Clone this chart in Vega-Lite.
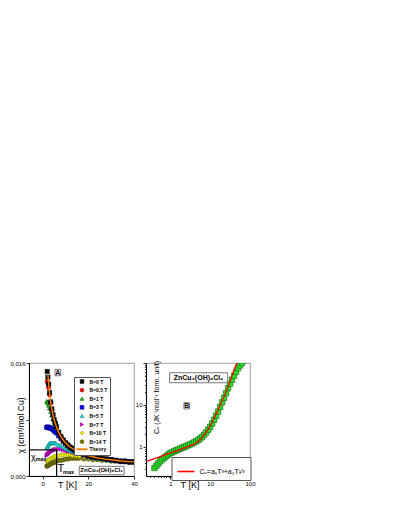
{
  "$schema": "https://vega.github.io/schema/vega-lite/v6.json",
  "padding": {"left": 9, "top": 359, "right": 0, "bottom": 0},
  "bounds": "flush",
  "spacing": 12,
  "resolve": {"scale": {"fill": "independent", "stroke": "independent", "shape": "independent"}, "legend": {"fill": "independent", "stroke": "independent", "shape": "independent"}},
  "config": {
    "font": "Liberation Sans",
    "view": {"stroke": "#888", "strokeWidth": 0.8},
    "axis": {"domainColor": "#000", "domainWidth": 1, "tickColor": "#000", "tickWidth": 0.8, "labelFontSize": 6, "labelColor": "#000", "titleColor": "#000", "titleFontWeight": "normal", "labelPadding": 1, "grid": false, "labelFlush": false, "labelOverlap": false}
  },
  "datasets": {
    "chi": [
      {"s":"B=14 T","T":1.8,"c":0.0014},{"s":"B=14 T","T":2.0,"c":0.0014},{"s":"B=14 T","T":2.3,"c":0.0015},{"s":"B=14 T","T":2.6,"c":0.0016},{"s":"B=14 T","T":3.0,"c":0.0016},{"s":"B=14 T","T":3.5,"c":0.0017},{"s":"B=14 T","T":4.0,"c":0.0018},{"s":"B=14 T","T":4.5,"c":0.0019},{"s":"B=14 T","T":5.0,"c":0.0019},{"s":"B=14 T","T":5.5,"c":0.0020},{"s":"B=14 T","T":6.0,"c":0.0021},{"s":"B=14 T","T":7.0,"c":0.0022},{"s":"B=14 T","T":8.0,"c":0.0022},{"s":"B=14 T","T":9.0,"c":0.0023},{"s":"B=14 T","T":10,"c":0.0024},{"s":"B=14 T","T":11,"c":0.0024},{"s":"B=14 T","T":12,"c":0.0025},{"s":"B=14 T","T":13,"c":0.0025},{"s":"B=14 T","T":14,"c":0.0025},{"s":"B=14 T","T":15,"c":0.0025},{"s":"B=14 T","T":16,"c":0.0025},{"s":"B=14 T","T":18,"c":0.0024},{"s":"B=14 T","T":20,"c":0.0024},{"s":"B=14 T","T":22,"c":0.0023},{"s":"B=14 T","T":24,"c":0.0023},{"s":"B=14 T","T":26,"c":0.0022},{"s":"B=14 T","T":28,"c":0.0022},{"s":"B=14 T","T":30,"c":0.0021},{"s":"B=14 T","T":32,"c":0.0021},{"s":"B=14 T","T":34,"c":0.0020},{"s":"B=14 T","T":36,"c":0.0020},{"s":"B=14 T","T":38,"c":0.0019},{"s":"B=14 T","T":40,"c":0.0019},
      {"s":"B=10 T","T":1.8,"c":0.0021},{"s":"B=10 T","T":2.0,"c":0.0021},{"s":"B=10 T","T":2.3,"c":0.0022},{"s":"B=10 T","T":2.6,"c":0.0023},{"s":"B=10 T","T":3.0,"c":0.0024},{"s":"B=10 T","T":3.5,"c":0.0025},{"s":"B=10 T","T":4.0,"c":0.0026},{"s":"B=10 T","T":4.5,"c":0.0026},{"s":"B=10 T","T":5.0,"c":0.0027},{"s":"B=10 T","T":5.5,"c":0.0028},{"s":"B=10 T","T":6.0,"c":0.0028},{"s":"B=10 T","T":7.0,"c":0.0029},{"s":"B=10 T","T":8.0,"c":0.0030},{"s":"B=10 T","T":9.0,"c":0.0030},{"s":"B=10 T","T":10,"c":0.0030},{"s":"B=10 T","T":11,"c":0.0030},{"s":"B=10 T","T":12,"c":0.0030},{"s":"B=10 T","T":13,"c":0.0029},{"s":"B=10 T","T":14,"c":0.0029},{"s":"B=10 T","T":15,"c":0.0028},{"s":"B=10 T","T":16,"c":0.0028},{"s":"B=10 T","T":18,"c":0.0027},{"s":"B=10 T","T":20,"c":0.0026},{"s":"B=10 T","T":22,"c":0.0025},{"s":"B=10 T","T":24,"c":0.0024},{"s":"B=10 T","T":26,"c":0.0023},{"s":"B=10 T","T":28,"c":0.0022},{"s":"B=10 T","T":30,"c":0.0022},{"s":"B=10 T","T":32,"c":0.0021},{"s":"B=10 T","T":34,"c":0.0021},{"s":"B=10 T","T":36,"c":0.0020},{"s":"B=10 T","T":38,"c":0.0020},{"s":"B=10 T","T":40,"c":0.0019},
      {"s":"B=7 T","T":1.8,"c":0.0029},{"s":"B=7 T","T":2.0,"c":0.0030},{"s":"B=7 T","T":2.3,"c":0.0031},{"s":"B=7 T","T":2.6,"c":0.0032},{"s":"B=7 T","T":3.0,"c":0.0033},{"s":"B=7 T","T":3.5,"c":0.0034},{"s":"B=7 T","T":4.0,"c":0.0035},{"s":"B=7 T","T":4.5,"c":0.0036},{"s":"B=7 T","T":5.0,"c":0.0037},{"s":"B=7 T","T":5.5,"c":0.0037},{"s":"B=7 T","T":6.0,"c":0.0038},{"s":"B=7 T","T":7.0,"c":0.0038},{"s":"B=7 T","T":8.0,"c":0.0038},{"s":"B=7 T","T":9.0,"c":0.0037},{"s":"B=7 T","T":10,"c":0.0036},{"s":"B=7 T","T":11,"c":0.0035},{"s":"B=7 T","T":12,"c":0.0035},{"s":"B=7 T","T":13,"c":0.0034},{"s":"B=7 T","T":14,"c":0.0033},{"s":"B=7 T","T":15,"c":0.0032},{"s":"B=7 T","T":16,"c":0.0031},{"s":"B=7 T","T":18,"c":0.0029},{"s":"B=7 T","T":20,"c":0.0028},{"s":"B=7 T","T":22,"c":0.0026},{"s":"B=7 T","T":24,"c":0.0025},{"s":"B=7 T","T":26,"c":0.0024},{"s":"B=7 T","T":28,"c":0.0023},{"s":"B=7 T","T":30,"c":0.0022},{"s":"B=7 T","T":32,"c":0.0021},{"s":"B=7 T","T":34,"c":0.0021},{"s":"B=7 T","T":36,"c":0.0020},{"s":"B=7 T","T":38,"c":0.0020},{"s":"B=7 T","T":40,"c":0.0019},
      {"s":"B=5 T","T":1.8,"c":0.0040},{"s":"B=5 T","T":2.0,"c":0.0041},{"s":"B=5 T","T":2.3,"c":0.0043},{"s":"B=5 T","T":2.6,"c":0.0045},{"s":"B=5 T","T":3.0,"c":0.0046},{"s":"B=5 T","T":3.5,"c":0.0047},{"s":"B=5 T","T":4.0,"c":0.0047},{"s":"B=5 T","T":4.5,"c":0.0047},{"s":"B=5 T","T":5.0,"c":0.0047},{"s":"B=5 T","T":5.5,"c":0.0047},{"s":"B=5 T","T":6.0,"c":0.0046},{"s":"B=5 T","T":7.0,"c":0.0044},{"s":"B=5 T","T":8.0,"c":0.0043},{"s":"B=5 T","T":9.0,"c":0.0041},{"s":"B=5 T","T":10,"c":0.0039},{"s":"B=5 T","T":11,"c":0.0038},{"s":"B=5 T","T":12,"c":0.0036},{"s":"B=5 T","T":13,"c":0.0035},{"s":"B=5 T","T":14,"c":0.0034},{"s":"B=5 T","T":15,"c":0.0033},{"s":"B=5 T","T":16,"c":0.0032},{"s":"B=5 T","T":18,"c":0.0030},{"s":"B=5 T","T":20,"c":0.0028},{"s":"B=5 T","T":22,"c":0.0026},{"s":"B=5 T","T":24,"c":0.0025},{"s":"B=5 T","T":26,"c":0.0024},{"s":"B=5 T","T":28,"c":0.0023},{"s":"B=5 T","T":30,"c":0.0022},{"s":"B=5 T","T":32,"c":0.0022},{"s":"B=5 T","T":34,"c":0.0021},{"s":"B=5 T","T":36,"c":0.0020},{"s":"B=5 T","T":38,"c":0.0020},{"s":"B=5 T","T":40,"c":0.0019},
      {"s":"B=3 T","T":1.8,"c":0.0069},{"s":"B=3 T","T":2.0,"c":0.0069},{"s":"B=3 T","T":2.3,"c":0.0069},{"s":"B=3 T","T":2.6,"c":0.0069},{"s":"B=3 T","T":3.0,"c":0.0068},{"s":"B=3 T","T":3.5,"c":0.0068},{"s":"B=3 T","T":4.0,"c":0.0067},{"s":"B=3 T","T":4.5,"c":0.0066},{"s":"B=3 T","T":5.0,"c":0.0064},{"s":"B=3 T","T":5.5,"c":0.0063},{"s":"B=3 T","T":6.0,"c":0.0061},{"s":"B=3 T","T":7.0,"c":0.0057},{"s":"B=3 T","T":8.0,"c":0.0053},{"s":"B=3 T","T":9.0,"c":0.0049},{"s":"B=3 T","T":10,"c":0.0046},{"s":"B=3 T","T":11,"c":0.0043},{"s":"B=3 T","T":12,"c":0.0040},{"s":"B=3 T","T":13,"c":0.0038},{"s":"B=3 T","T":14,"c":0.0036},{"s":"B=3 T","T":15,"c":0.0034},{"s":"B=3 T","T":16,"c":0.0033},{"s":"B=3 T","T":18,"c":0.0030},{"s":"B=3 T","T":20,"c":0.0028},{"s":"B=3 T","T":22,"c":0.0027},{"s":"B=3 T","T":24,"c":0.0026},{"s":"B=3 T","T":26,"c":0.0025},{"s":"B=3 T","T":28,"c":0.0024},{"s":"B=3 T","T":30,"c":0.0023},{"s":"B=3 T","T":32,"c":0.0022},{"s":"B=3 T","T":34,"c":0.0021},{"s":"B=3 T","T":36,"c":0.0021},{"s":"B=3 T","T":38,"c":0.0020},{"s":"B=3 T","T":40,"c":0.0020},
      {"s":"B=1 T","T":1.8,"c":0.0106},{"s":"B=1 T","T":2.0,"c":0.0105},{"s":"B=1 T","T":2.3,"c":0.0103},{"s":"B=1 T","T":2.6,"c":0.0100},{"s":"B=1 T","T":3.0,"c":0.0096},{"s":"B=1 T","T":3.5,"c":0.0091},{"s":"B=1 T","T":4.0,"c":0.0086},{"s":"B=1 T","T":4.5,"c":0.0081},{"s":"B=1 T","T":5.0,"c":0.0076},{"s":"B=1 T","T":5.5,"c":0.0072},{"s":"B=1 T","T":6.0,"c":0.0068},{"s":"B=1 T","T":7.0,"c":0.0061},{"s":"B=1 T","T":8.0,"c":0.0055},{"s":"B=1 T","T":9.0,"c":0.0050},{"s":"B=1 T","T":10,"c":0.0046},{"s":"B=1 T","T":11,"c":0.0043},{"s":"B=1 T","T":12,"c":0.0040},{"s":"B=1 T","T":13,"c":0.0038},{"s":"B=1 T","T":14,"c":0.0036},{"s":"B=1 T","T":15,"c":0.0035},{"s":"B=1 T","T":16,"c":0.0033},{"s":"B=1 T","T":18,"c":0.0031},{"s":"B=1 T","T":20,"c":0.0029},{"s":"B=1 T","T":22,"c":0.0027},{"s":"B=1 T","T":24,"c":0.0026},{"s":"B=1 T","T":26,"c":0.0025},{"s":"B=1 T","T":28,"c":0.0024},{"s":"B=1 T","T":30,"c":0.0023},{"s":"B=1 T","T":32,"c":0.0022},{"s":"B=1 T","T":34,"c":0.0021},{"s":"B=1 T","T":36,"c":0.0021},{"s":"B=1 T","T":38,"c":0.0020},{"s":"B=1 T","T":40,"c":0.0020},
      {"s":"B=0.5 T","T":2.0,"c":0.0134},{"s":"B=0.5 T","T":2.3,"c":0.0131},{"s":"B=0.5 T","T":2.6,"c":0.0125},{"s":"B=0.5 T","T":3.0,"c":0.0115},{"s":"B=0.5 T","T":3.5,"c":0.0103},{"s":"B=0.5 T","T":4.0,"c":0.0093},{"s":"B=0.5 T","T":4.5,"c":0.0086},{"s":"B=0.5 T","T":5.0,"c":0.0079},{"s":"B=0.5 T","T":5.5,"c":0.0074},{"s":"B=0.5 T","T":6.0,"c":0.0069},{"s":"B=0.5 T","T":7.0,"c":0.0061},{"s":"B=0.5 T","T":8.0,"c":0.0055},{"s":"B=0.5 T","T":9.0,"c":0.0050},{"s":"B=0.5 T","T":10,"c":0.0046},{"s":"B=0.5 T","T":11,"c":0.0043},{"s":"B=0.5 T","T":12,"c":0.0041},{"s":"B=0.5 T","T":13,"c":0.0038},{"s":"B=0.5 T","T":14,"c":0.0036},{"s":"B=0.5 T","T":15,"c":0.0035},{"s":"B=0.5 T","T":16,"c":0.0033},{"s":"B=0.5 T","T":18,"c":0.0031},{"s":"B=0.5 T","T":20,"c":0.0029},{"s":"B=0.5 T","T":22,"c":0.0027},{"s":"B=0.5 T","T":24,"c":0.0026},{"s":"B=0.5 T","T":26,"c":0.0025},{"s":"B=0.5 T","T":28,"c":0.0024},{"s":"B=0.5 T","T":30,"c":0.0023},{"s":"B=0.5 T","T":32,"c":0.0022},{"s":"B=0.5 T","T":34,"c":0.0021},{"s":"B=0.5 T","T":36,"c":0.0021},{"s":"B=0.5 T","T":38,"c":0.0020},{"s":"B=0.5 T","T":40,"c":0.0020},
      {"s":"B=0 T","T":2.0,"c":0.0148},{"s":"B=0 T","T":2.3,"c":0.0140},{"s":"B=0 T","T":2.6,"c":0.0130},{"s":"B=0 T","T":3.0,"c":0.0118},{"s":"B=0 T","T":3.5,"c":0.0105},{"s":"B=0 T","T":4.0,"c":0.0095},{"s":"B=0 T","T":4.5,"c":0.0087},{"s":"B=0 T","T":5.0,"c":0.0080},{"s":"B=0 T","T":5.5,"c":0.0075},{"s":"B=0 T","T":6.0,"c":0.0070},{"s":"B=0 T","T":7.0,"c":0.0062},{"s":"B=0 T","T":8.0,"c":0.0056},{"s":"B=0 T","T":9.0,"c":0.0051},{"s":"B=0 T","T":10,"c":0.0047},{"s":"B=0 T","T":11,"c":0.0044},{"s":"B=0 T","T":12,"c":0.0041},{"s":"B=0 T","T":13,"c":0.0039},{"s":"B=0 T","T":14,"c":0.0037},{"s":"B=0 T","T":15,"c":0.0035},{"s":"B=0 T","T":16,"c":0.0034},{"s":"B=0 T","T":18,"c":0.0031},{"s":"B=0 T","T":20,"c":0.0029},{"s":"B=0 T","T":22,"c":0.0027},{"s":"B=0 T","T":24,"c":0.0026},{"s":"B=0 T","T":26,"c":0.0025},{"s":"B=0 T","T":28,"c":0.0024},{"s":"B=0 T","T":30,"c":0.0023},{"s":"B=0 T","T":32,"c":0.0022},{"s":"B=0 T","T":34,"c":0.0021},{"s":"B=0 T","T":36,"c":0.0021},{"s":"B=0 T","T":38,"c":0.0020},{"s":"B=0 T","T":40,"c":0.0020}
    ],
    "theory": [
      {"s":"Theory","T":2.3,"c":0.0143},{"s":"Theory","T":2.6,"c":0.0131},{"s":"Theory","T":3,"c":0.0118},{"s":"Theory","T":3.5,"c":0.0105},{"s":"Theory","T":4,"c":0.0095},{"s":"Theory","T":5,"c":0.0080},{"s":"Theory","T":6,"c":0.0070},{"s":"Theory","T":7,"c":0.0062},{"s":"Theory","T":8,"c":0.0056},{"s":"Theory","T":9,"c":0.0051},{"s":"Theory","T":10,"c":0.0047},{"s":"Theory","T":12,"c":0.0041},{"s":"Theory","T":14,"c":0.0037},{"s":"Theory","T":16,"c":0.0034},{"s":"Theory","T":18,"c":0.0031},{"s":"Theory","T":20,"c":0.0029},{"s":"Theory","T":25,"c":0.0025},{"s":"Theory","T":30,"c":0.0023},{"s":"Theory","T":35,"c":0.0021},{"s":"Theory","T":40,"c":0.0020}
    ],
    "peak": [{"T0": -6, "Tmax": 6.1, "c0": 0, "chimax": 0.0037}],
    "cv": [
      {"T":0.40,"Cv":0.31},{"T":0.45,"Cv":0.355},{"T":0.50,"Cv":0.40},{"T":0.56,"Cv":0.45},{"T":0.63,"Cv":0.50},{"T":0.71,"Cv":0.55},{"T":0.80,"Cv":0.60},{"T":0.89,"Cv":0.65},{"T":1.0,"Cv":0.70},{"T":1.12,"Cv":0.74},{"T":1.26,"Cv":0.78},{"T":1.41,"Cv":0.82},{"T":1.58,"Cv":0.86},{"T":1.78,"Cv":0.90},{"T":2.0,"Cv":0.95},{"T":2.24,"Cv":0.99},{"T":2.5,"Cv":1.04},{"T":2.82,"Cv":1.09},{"T":3.16,"Cv":1.14},{"T":3.55,"Cv":1.20},{"T":3.98,"Cv":1.27},{"T":4.47,"Cv":1.35},{"T":5.01,"Cv":1.45},{"T":5.62,"Cv":1.57},{"T":6.31,"Cv":1.72},{"T":7.08,"Cv":1.93},{"T":7.94,"Cv":2.2},{"T":8.91,"Cv":2.55},{"T":10.0,"Cv":3.0},{"T":11.2,"Cv":3.6},{"T":12.6,"Cv":4.4},{"T":14.1,"Cv":5.5},{"T":15.8,"Cv":6.9},{"T":17.8,"Cv":8.9},{"T":20.0,"Cv":11.5},{"T":22.4,"Cv":14.8},{"T":25.1,"Cv":19},{"T":28.2,"Cv":25},{"T":31.6,"Cv":32},{"T":35.5,"Cv":40},{"T":39.8,"Cv":50},{"T":44.7,"Cv":61},{"T":50.1,"Cv":75},{"T":56.2,"Cv":87},{"T":63.1,"Cv":100},{"T":70.8,"Cv":116},{"T":79.4,"Cv":135}
    ],
    "fit": [
      {"s":"Cᵥ=a₁T³+a₂T¹⁄³","T":0.24,"Cv":0.44},{"s":"Cᵥ=a₁T³+a₂T¹⁄³","T":0.3,"Cv":0.47},{"s":"Cᵥ=a₁T³+a₂T¹⁄³","T":0.4,"Cv":0.52},{"s":"Cᵥ=a₁T³+a₂T¹⁄³","T":0.5,"Cv":0.56},{"s":"Cᵥ=a₁T³+a₂T¹⁄³","T":0.7,"Cv":0.63},{"s":"Cᵥ=a₁T³+a₂T¹⁄³","T":1.0,"Cv":0.71},{"s":"Cᵥ=a₁T³+a₂T¹⁄³","T":1.5,"Cv":0.81},{"s":"Cᵥ=a₁T³+a₂T¹⁄³","T":2,"Cv":0.9},{"s":"Cᵥ=a₁T³+a₂T¹⁄³","T":3,"Cv":1.04},{"s":"Cᵥ=a₁T³+a₂T¹⁄³","T":4,"Cv":1.18},{"s":"Cᵥ=a₁T³+a₂T¹⁄³","T":5,"Cv":1.36},{"s":"Cᵥ=a₁T³+a₂T¹⁄³","T":6,"Cv":1.6},{"s":"Cᵥ=a₁T³+a₂T¹⁄³","T":7,"Cv":1.9},{"s":"Cᵥ=a₁T³+a₂T¹⁄³","T":8,"Cv":2.25},{"s":"Cᵥ=a₁T³+a₂T¹⁄³","T":10,"Cv":3.1},{"s":"Cᵥ=a₁T³+a₂T¹⁄³","T":12,"Cv":4.4},{"s":"Cᵥ=a₁T³+a₂T¹⁄³","T":15,"Cv":6.8},{"s":"Cᵥ=a₁T³+a₂T¹⁄³","T":20,"Cv":12.5},{"s":"Cᵥ=a₁T³+a₂T¹⁄³","T":25,"Cv":20},{"s":"Cᵥ=a₁T³+a₂T¹⁄³","T":30,"Cv":32},{"s":"Cᵥ=a₁T³+a₂T¹⁄³","T":35,"Cv":48},{"s":"Cᵥ=a₁T³+a₂T¹⁄³","T":40,"Cv":68},{"s":"Cᵥ=a₁T³+a₂T¹⁄³","T":45,"Cv":92},{"s":"Cᵥ=a₁T³+a₂T¹⁄³","T":50,"Cv":125}
    ]
  },
  "hconcat": [
    {
      "width": 105,
      "height": 113,
      "layer": [
        {
          "data": {"name": "chi"},
          "mark": {"type": "point", "filled": true, "size": 18, "strokeWidth": 0.6, "opacity": 1, "clip": true},
          "encoding": {
            "x": {"field": "T", "type": "quantitative", "scale": {"domain": [-6, 40], "nice": false, "zero": false},
              "axis": {"values": [0, 10, 20, 30, 40], "labelExpr": "datum.value % 20 == 0 ? datum.label : ''", "tickSize": {"condition": {"test": "datum.value % 20 == 0", "value": 3}, "value": 2}, "title": "T [K]", "titleFontSize": 9, "titleX": 38, "titleY": 4, "titleBaseline": "top", "titleAlign": "center"}},
            "y": {"field": "c", "type": "quantitative", "scale": {"domain": [0, 0.016], "nice": false},
              "axis": {"values": [0, 0.008, 0.016], "labelExpr": "datum.value == 0.008 ? '' : replace(format(datum.value, '.3f'), '.', ',')", "tickSize": 3, "title": "χ (cm³/mol Cu)", "titleFontSize": 8.5, "titleX": -9, "titleY": 62, "titleAngle": -90, "titleBaseline": "middle", "titleAlign": "center"}},
            "fill": {"field": "s", "type": "nominal",
              "scale": {"domain": ["B=0 T","B=0.5 T","B=1 T","B=3 T","B=5 T","B=7 T","B=10 T","B=14 T","Theory"], "range": ["#000000","#ff0000","#22bb22","#0000ff","#33dddd","#e000e0","#ffff00","#808000","#ff8000"]},
              "legend": {"title": null, "orient": "none", "legendX": 45, "legendY": 14, "padding": 2, "strokeColor": "#555", "fillColor": "#fff", "labelFontSize": 5, "labelFontWeight": "bold", "symbolSize": 14, "symbolOffset": 3.5, "labelOffset": 5, "rowPadding": 1.6, "symbolStrokeWidth": 0.6}},
            "stroke": {"field": "s", "type": "nominal",
              "scale": {"domain": ["B=0 T","B=0.5 T","B=1 T","B=3 T","B=5 T","B=7 T","B=10 T","B=14 T","Theory"], "range": ["#000000","#800000","#006600","#000080","#008888","#800080","#808000","#404000","#ff8000"]},
              "legend": {"title": null, "orient": "none", "legendX": 45, "legendY": 14, "padding": 2, "strokeColor": "#555", "fillColor": "#fff", "labelFontSize": 5, "labelFontWeight": "bold", "symbolSize": 14, "symbolOffset": 3.5, "labelOffset": 5, "rowPadding": 1.6, "symbolStrokeWidth": 0.6}},
            "shape": {"field": "s", "type": "nominal",
              "scale": {"domain": ["B=0 T","B=0.5 T","B=1 T","B=3 T","B=5 T","B=7 T","B=10 T","B=14 T","Theory"], "range": ["square","circle","triangle-up","square","triangle-up","triangle-right","diamond","circle","M-2.8,-0.35H2.8V0.35H-2.8Z"]},
              "legend": {"title": null, "orient": "none", "legendX": 45, "legendY": 14, "padding": 2, "strokeColor": "#555", "fillColor": "#fff", "labelFontSize": 5, "labelFontWeight": "bold", "symbolSize": 14, "symbolOffset": 3.5, "labelOffset": 5, "rowPadding": 1.6, "symbolStrokeWidth": 0.6}}
          }
        },
        {
          "data": {"name": "theory"},
          "mark": {"type": "line", "strokeWidth": 1.4, "interpolate": "monotone", "clip": true},
          "encoding": {
            "x": {"field": "T", "type": "quantitative"},
            "y": {"field": "c", "type": "quantitative"},
            "stroke": {"field": "s", "type": "nominal", "legend": null}
          }
        },
        {
          "data": {"name": "peak"},
          "mark": {"type": "rule", "color": "#000", "strokeWidth": 1.2},
          "encoding": {"x": {"field": "T0", "type": "quantitative"}, "x2": {"field": "Tmax"}, "y": {"field": "chimax", "type": "quantitative"}}
        },
        {
          "data": {"name": "peak"},
          "mark": {"type": "rule", "color": "#000", "strokeWidth": 1.2},
          "encoding": {"x": {"field": "Tmax", "type": "quantitative"}, "y": {"field": "c0", "type": "quantitative"}, "y2": {"field": "chimax"}}
        },
        {
          "data": {"values": [{"t": "A"}]},
          "layer": [
            {"mark": {"type": "rect", "fill": "#fff", "stroke": "#555", "strokeWidth": 0.8}, "encoding": {"x": {"datum": 5.4}, "x2": {"datum": 7.9}, "y": {"datum": 0.0142}, "y2": {"datum": 0.0151}}},
            {"mark": {"type": "text", "fontSize": 7, "fontWeight": "bold", "align": "center", "baseline": "middle"}, "encoding": {"x": {"datum": 6.65}, "y": {"datum": 0.01465}, "text": {"field": "t"}}}
          ]
        },
        {
          "data": {"values": [{"t": "ZnCu₃(OH)₆Cl₂"}]},
          "layer": [
            {"mark": {"type": "rect", "fill": "#fff", "stroke": "#555", "strokeWidth": 0.8}, "encoding": {"x": {"datum": 16}, "x2": {"datum": 35.7}, "y": {"datum": 0.00018}, "y2": {"datum": 0.00137}}},
            {"mark": {"type": "text", "fontSize": 6, "fontWeight": "bold", "align": "center", "baseline": "middle"}, "encoding": {"x": {"datum": 25.8}, "y": {"datum": 0.00078}, "text": {"field": "t"}}}
          ]
        },
        {
          "data": {"values": [{"t": "χ"}]},
          "mark": {"type": "text", "fontSize": 9, "align": "center", "baseline": "middle"},
          "encoding": {"x": {"datum": -4.1}, "y": {"datum": 0.0027}, "text": {"field": "t"}}
        },
        {
          "data": {"values": [{"t": "max"}]},
          "mark": {"type": "text", "fontSize": 5.5, "fontWeight": "bold", "align": "left", "baseline": "middle"},
          "encoding": {"x": {"datum": -3.2}, "y": {"datum": 0.0024}, "text": {"field": "t"}}
        },
        {
          "data": {"values": [{"t": "T"}]},
          "mark": {"type": "text", "fontSize": 11, "align": "center", "baseline": "middle"},
          "encoding": {"x": {"datum": 8.0}, "y": {"datum": 0.00099}, "text": {"field": "t"}}
        },
        {
          "data": {"values": [{"t": "max"}]},
          "mark": {"type": "text", "fontSize": 5.5, "fontWeight": "bold", "align": "left", "baseline": "middle"},
          "encoding": {"x": {"datum": 8.9}, "y": {"datum": 0.0005}, "text": {"field": "t"}}
        }
      ]
    },
    {
      "width": 104,
      "height": 113,
      "layer": [
        {
          "data": {"name": "cv"},
          "mark": {"type": "point", "shape": "square", "filled": true, "size": 30, "fill": "#2ddd2d", "stroke": "#0f660f", "strokeWidth": 0.6, "opacity": 1, "clip": true},
          "encoding": {
            "x": {"field": "T", "type": "quantitative", "scale": {"type": "log", "domain": [0.245, 100], "nice": false},
              "axis": {"values": [0.3,0.4,0.5,0.6,0.7,0.8,0.9,1,2,3,4,5,6,7,8,9,10,20,30,40,50,60,70,80,90,100], "labelExpr": "datum.value == 1 ? '1' : datum.value == 10 ? '10' : datum.value == 100 ? '100' : ''", "tickSize": {"condition": {"test": "datum.value == 1 || datum.value == 10 || datum.value == 100", "value": 3}, "value": 1.5}, "title": "T [K]", "titleFontSize": 9, "titleX": 43.5, "titleY": 4, "titleBaseline": "top", "titleAlign": "center"}},
            "y": {"field": "Cv", "type": "quantitative", "scale": {"type": "log", "domain": [0.2, 100], "nice": false},
              "axis": {"values": [0.3,0.4,0.5,0.6,0.7,0.8,0.9,1,2,3,4,5,6,7,8,9,10,20,30,40,50,60,70,80,90,100], "labelExpr": "datum.value == 1 ? '1' : datum.value == 10 ? '10' : ''", "tickSize": {"condition": {"test": "datum.value == 1 || datum.value == 10 || datum.value == 100", "value": 3}, "value": 1.5}, "title": "Cᵥ (JK⁻¹mol⁻¹ form. unit)", "titleFontSize": 7, "titleX": 10, "titleY": 34, "titleAngle": -90, "titleBaseline": "middle", "titleAlign": "center"}}
          }
        },
        {
          "data": {"name": "fit"},
          "mark": {"type": "line", "strokeWidth": 1.3, "clip": true, "interpolate": "monotone"},
          "encoding": {
            "x": {"field": "T", "type": "quantitative"},
            "y": {"field": "Cv", "type": "quantitative"},
            "stroke": {"field": "s", "type": "nominal", "scale": {"range": ["#ff0000"]},
              "legend": {"title": null, "orient": "none", "legendX": 25.5, "legendY": 94, "padding": 5, "strokeColor": "#555", "fillColor": "#fff", "labelFontSize": 7, "symbolType": "stroke", "symbolSize": 289, "symbolStrokeWidth": 1.6, "labelOffset": 4}}
          }
        },
        {
          "data": {"values": [{"t": "ZnCu₃(OH)₆Cl₂"}]},
          "layer": [
            {"mark": {"type": "rect", "fill": "#fff", "stroke": "#555", "strokeWidth": 0.8}, "encoding": {"x": {"datum": 0.96}, "x2": {"datum": 27.5}, "y": {"datum": 33.7}, "y2": {"datum": 58.5}}},
            {"mark": {"type": "text", "fontSize": 7, "fontWeight": "bold", "align": "center", "baseline": "middle"}, "encoding": {"x": {"datum": 5.1}, "y": {"datum": 44.4}, "text": {"field": "t"}}}
          ]
        },
        {
          "data": {"values": [{"t": "B"}]},
          "layer": [
            {"mark": {"type": "rect", "fill": "#fff", "stroke": "#555", "strokeWidth": 0.8}, "encoding": {"x": {"datum": 2.19}, "x2": {"datum": 3.04}, "y": {"datum": 8.0}, "y2": {"datum": 11.2}}},
            {"mark": {"type": "text", "fontSize": 7, "fontWeight": "bold", "align": "center", "baseline": "middle"}, "encoding": {"x": {"datum": 2.58}, "y": {"datum": 9.5}, "text": {"field": "t"}}}
          ]
        }
      ]
    }
  ]
}
